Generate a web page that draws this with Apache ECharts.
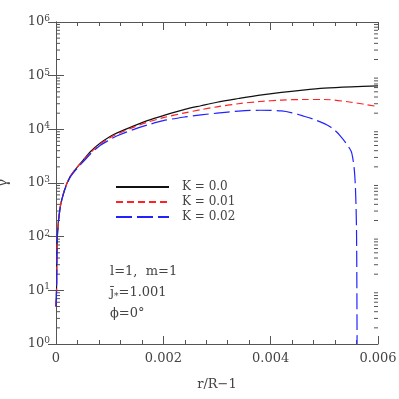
<!DOCTYPE html>
<html>
<head>
<meta charset="utf-8">
<script src="https://cdn.jsdelivr.net/npm/echarts@6/dist/echarts.min.js"></script>
<style>
  html, body { margin: 0; padding: 0; background: #fff; }
  #chart { width: 399px; height: 399px; }
</style>
</head>
<body>
<div id="chart"></div>
<script>
// r/R-1 sample points
var rMain = [0, 0.00001, 0.000025, 0.000075, 0.00015, 0.00026, 0.0004, 0.00051, 0.00065, 0.00082,
  0.001, 0.00113, 0.00144, 0.0017, 0.002, 0.0024, 0.0027, 0.003, 0.0034, 0.0038,
  0.0042, 0.0046, 0.005, 0.0055, 0.006]
var gammaK0 = [5, 10, 100, 340, 700, 1300, 2000, 2700, 3900, 5500,
  7300, 8500, 11500, 14500, 18000, 23500, 27500, 32000, 37500, 43500,
  49000, 54000, 58500, 62000, 64500]
var gammaK001 = [5, 10, 100, 340, 700, 1300, 2000, 2650, 3750, 5300,
  6900, 8100, 10900, 13500, 16500, 20300, 23200, 26300, 30000, 33000,
  35000, 36000, 36000, 32000, 26500]

var rK002 = [0, 0.00001, 0.000025, 0.000075, 0.00015, 0.00026, 0.0004, 0.00051, 0.00065, 0.00082,
  0.001, 0.00113, 0.00144, 0.0017, 0.002, 0.0024, 0.0027, 0.003, 0.0034, 0.0038,
  0.0042, 0.0044, 0.0046, 0.0048, 0.005, 0.0051, 0.0052, 0.0053, 0.0054, 0.0055,
  0.00553, 0.00556, 0.00558, 0.0056, 0.00561]
var gammaK002 = [5, 10, 100, 330, 680, 1250, 1900, 2500, 3550, 5000,
  6400, 7500, 9900, 12000, 14500, 17000, 18600, 20000, 21800, 22700,
  22000, 20300, 17800, 15400, 12800, 11300, 9500, 7500, 5600, 3900,
  2900, 1700, 800, 125, 1]

var seriesNames = ['K = 0.0', 'K = 0.01', 'K = 0.02']
var decades = [0, 1, 2, 3, 4, 5]
var minorSteps = [2, 3, 4, 5, 6, 7, 8, 9]
var noteLines = ['l=1,  m=1', 'j\u0304{sub|*}=1.001', '\u03d5=0\u00b0']

function pairs(xs, ys) {
  return xs.map(function(x, i) { return [x, ys[i]] })
}

var minorTickData = []
decades.forEach(function(d) {
  minorSteps.forEach(function(k) {
    minorTickData.push([0, k * Math.pow(10, d)])
  })
})

var fontFamily = 'DejaVu Serif'
var textColor = '#444'
var axisColor = '#555'

var chart = echarts.init(document.getElementById('chart'))

var xAxisBase = {
  type: 'value',
  min: 0,
  max: 0.006,
  interval: 0.002,
  splitLine: { show: false },
  axisLine: { lineStyle: { color: axisColor, width: 1 } },
  axisTick: { inside: true, length: 8, lineStyle: { color: axisColor } },
  minorTick: { show: true, splitNumber: 5, length: 4, lineStyle: { color: axisColor } }
}

var yAxisBase = {
  type: 'log',
  logBase: 10,
  min: 1,
  max: 1000000,
  splitLine: { show: false },
  axisLine: { lineStyle: { color: axisColor, width: 1 } },
  axisTick: { inside: true, length: 8, lineStyle: { color: axisColor } }
}

var lineBase = {
  type: 'line',
  showSymbol: false,
  symbol: 'none',
  smooth: 0.3
}

chart.setOption({
  animation: false,
  grid: { left: 56, top: 22, width: 322, height: 322, outerBoundsMode: 'none', containLabel: false },
  legend: {
    data: seriesNames,
    orient: 'vertical',
    left: 110,
    top: 176,
    itemWidth: 53,
    itemHeight: 10,
    itemGap: 3,
    itemStyle: { opacity: 0 },
    textStyle: { fontFamily: fontFamily, fontSize: 12, color: textColor, padding: [0, 0, 0, 8] }
  },
  xAxis: [
    Object.assign({}, xAxisBase, {
      position: 'bottom',
      name: 'r/R\u22121',
      nameLocation: 'middle',
      nameGap: 34,
      nameTextStyle: { fontFamily: fontFamily, fontSize: 13, color: textColor },
      axisLabel: {
        fontFamily: fontFamily, fontSize: 13, color: textColor, margin: 8,
        formatter: function(v) { return v === 0 ? '0' : v.toFixed(3) }
      }
    }),
    Object.assign({}, xAxisBase, { position: 'top', axisLabel: { show: false } })
  ],
  yAxis: [
    Object.assign({}, yAxisBase, {
      position: 'left',
      name: '\u03b3',
      nameLocation: 'middle',
      nameGap: 46,
      nameTextStyle: { fontFamily: fontFamily, fontSize: 14, color: textColor },
      axisLabel: {
        fontFamily: fontFamily, fontSize: 13, color: textColor, margin: 6,
        formatter: function(v) {
          return '10{sup|' + Math.round(Math.log10(v)) + '}'
        },
        rich: {
          sup: { fontFamily: fontFamily, fontSize: 9, color: textColor, verticalAlign: 'top', padding: [0, 0, 7, 0] }
        }
      }
    }),
    Object.assign({}, yAxisBase, { position: 'right', axisLabel: { show: false } })
  ],
  graphic: noteLines.map(function(t, i) {
    return {
      type: 'text',
      left: 110,
      top: 265 + i * 21,
      style: {
        text: t,
        font: '13px "' + fontFamily + '"',
        fill: textColor,
        rich: { sub: { fontSize: 9, fontFamily: fontFamily, fill: textColor, padding: [8, 0, 0, 0] } }
      }
    }
  }),
  series: [
    Object.assign({}, lineBase, {
      name: seriesNames[0],
      data: pairs(rMain, gammaK0),
      lineStyle: { color: '#111', width: 1.2 },
      itemStyle: { color: '#111' }
    }),
    Object.assign({}, lineBase, {
      name: seriesNames[1],
      data: pairs(rMain, gammaK001),
      lineStyle: { color: '#f22', width: 1.2, type: [7, 4] },
      itemStyle: { color: '#f22' }
    }),
    Object.assign({}, lineBase, {
      name: seriesNames[2],
      data: pairs(rK002, gammaK002),
      lineStyle: { color: '#22f', width: 1.2, type: [16, 5] },
      itemStyle: { color: '#22f' }
    }),
    {
      // log minor ticks on left and right frame
      type: 'custom',
      silent: true,
      clip: false,
      data: minorTickData,
      renderItem: function(params, api) {
        var v = api.value(1)
        var l = api.coord([0, v])
        var r = api.coord([0.006, v])
        var st = { stroke: axisColor, lineWidth: 1 }
        return {
          type: 'group',
          children: [
            { type: 'line', shape: { x1: l[0], y1: l[1], x2: l[0] + 4, y2: l[1] }, style: st },
            { type: 'line', shape: { x1: r[0], y1: r[1], x2: r[0] - 4, y2: r[1] }, style: st }
          ]
        }
      }
    }
  ]
})
</script>
</body>
</html>
